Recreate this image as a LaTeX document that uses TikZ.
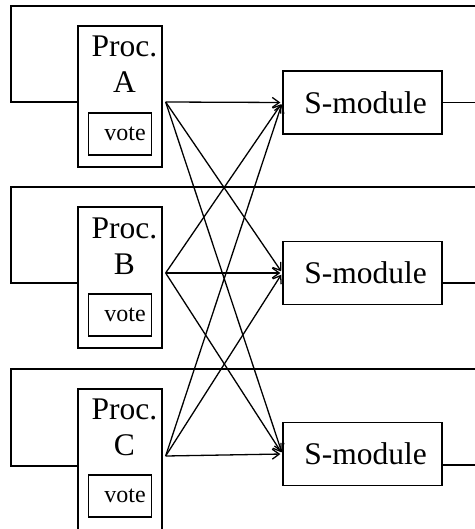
\documentclass[tikz,border=0pt]{standalone}
\usepackage{fontspec}
\setmainfont{Liberation Serif}
\usetikzlibrary{arrows,arrows.meta,positioning}

\begin{document}
\begin{tikzpicture}[-,>={Straight Barb[length=7pt,width=10pt]},x=1pt,y=-1pt,line width=1.3pt,
  proc node/.style={rectangle,draw,minimum width=84pt,minimum height=141pt,inner sep=0pt},
  vote node/.style={rectangle,draw,minimum width=63pt,minimum height=42pt,inner sep=0pt,
    font=\fontsize{24}{28}\selectfont,execute at begin node={\hspace*{10pt}}},
  smod node/.style={rectangle,draw,minimum width=159pt,minimum height=63pt,inner sep=0pt,
    font=\fontsize{31.5}{37}\selectfont,execute at begin node={\hspace*{6pt}}},
  name node/.style={align=center,inner sep=0pt,anchor=base,font=\fontsize{31.5}{36}\selectfont}]
  \useasboundingbox (0,0) rectangle (474,529);
  \node[proc node] (pa) at (120,96.5) {};
  \node[proc node] (pb) [below of=pa,node distance=181pt] {};
  \node[proc node] (pc) [below of=pb,node distance=182pt] {};
  \node[name node] (na) at ([xshift=4.5pt,yshift=-67pt]pa.north) {Proc.\\A};
  \node[name node] (nb) at ([xshift=4.5pt,yshift=-68pt]pb.north) {Proc.\\B};
  \node[name node] (nc) at ([xshift=4.5pt,yshift=-67pt]pc.north) {Proc.\\C};
  \node[vote node] (va) [below of=pa,node distance=37.5pt] {vote};
  \node[vote node] (vb) [below of=pb,node distance=37.5pt] {vote};
  \node[vote node] (vc) [below of=pc,node distance=36.5pt] {vote};
  \node[smod node] (sa) at (362.5,102.5) {S-module};
  \node[smod node] (sb) at (362.5,273) {S-module};
  \node[smod node] (sc) [below of=sb,node distance=181pt] {S-module};

  \coordinate (oa) at ([xshift=3pt,yshift=-5.5pt]pa.east);
  \coordinate (ob) at ([xshift=3pt,yshift=4.5pt]pb.east);
  \coordinate (oc) at ([xshift=3pt,yshift=3.5pt]pc.east);

  \path[->,shorten >=2pt,every edge/.style={draw,line width=1.3pt}]
    (oa) edge (sa.west) edge (sb.west) edge (sc.west)
    (ob) edge (sa.west) edge (sb.west) edge (sc.west)
    (oc) edge (sa.west) edge (sb.west) edge (sc.west);

  \draw (sa.east) -- ++(40,0) |- (11,6) |- ([yshift=-5.5pt]pa.west);
  \draw ([yshift=-10pt]sb.east) -- ++(40,0) |- (11,187) |- ([yshift=-5.5pt]pb.west);
  \draw ([yshift=-11pt]sc.east) -- ++(40,0) |- (11,369) |- ([yshift=-6.5pt]pc.west);
\end{tikzpicture}
\end{document}
